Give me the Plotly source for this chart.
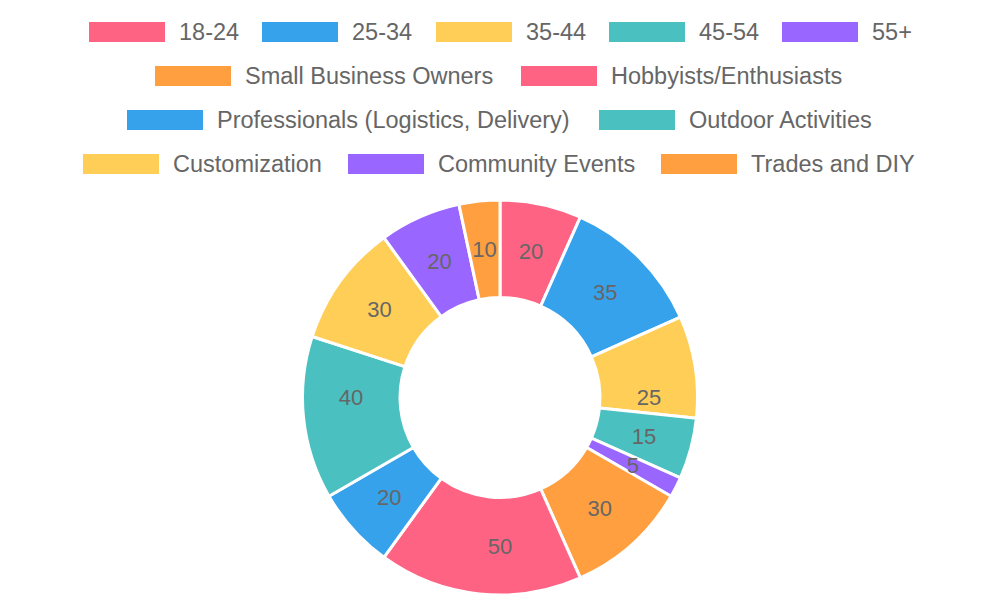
import plotly.graph_objects as go

# ---- data ----
labels = ["18-24", "25-34", "35-44", "45-54", "55+",
          "Small Business Owners", "Hobbyists/Enthusiasts",
          "Professionals (Logistics, Delivery)", "Outdoor Activities",
          "Customization", "Community Events", "Trades and DIY"]
values = [20, 35, 25, 15, 5, 30, 50, 20, 40, 30, 20, 10]
colors = ["#FF6384", "#36A2EB", "#FFCE56", "#4BC0C0", "#9966FF", "#FF9F40",
          "#FF6384", "#36A2EB", "#4BC0C0", "#FFCE56", "#9966FF", "#FF9F40"]

W, H = 1000, 600
FONT = "Liberation Sans, Arial, Helvetica, sans-serif"
TXT = "#666666"

# ---- custom centred legend layout (pixel positions of each legend box) ----
legend_box_left = [89, 262, 436, 609, 782,
                   155, 521,
                   127, 599,
                   83, 348, 661]
legend_row_y = [32, 32, 32, 32, 32,
                76, 76,
                120, 120,
                164, 164, 164]
BOX_W, BOX_H, GAP = 76, 20, 12

# pie geometry (pixels)
CX, CY_TOP = 500, 397.5
R_OUT, R_IN = 197.5, 100
R_LBL_OUT, R_LBL_IN = 156, 142   # narrow invisible ring that carries the value labels

def domain_for(r):
    return dict(x=[(CX - r) / W, (CX + r) / W],
                y=[(H - CY_TOP - r) / H, (H - CY_TOP + r) / H])

fig = go.Figure()
fig.add_trace(go.Pie(
    labels=labels,
    values=values,
    marker=dict(colors=colors, line=dict(color="white", width=3)),
    hole=R_IN / R_OUT,
    sort=False,
    direction="clockwise",
    rotation=0,
    textinfo="none",
    showlegend=False,
    hoverinfo="label+value",
    domain=domain_for(R_OUT),
))
# transparent ring used only to place the value labels at mid-radius
fig.add_trace(go.Pie(
    labels=labels,
    values=values,
    marker=dict(colors=["rgba(0,0,0,0)"] * len(values), line=dict(width=0)),
    hole=R_LBL_IN / R_LBL_OUT,
    sort=False,
    direction="clockwise",
    rotation=0,
    textinfo="value",
    textposition="inside",
    insidetextorientation="horizontal",
    textfont=dict(family=FONT, size=22, color=TXT),
    showlegend=False,
    hoverinfo="skip",
    domain=domain_for(R_LBL_OUT),
))

shapes = []
annotations = []
for lab, col, bx, ry in zip(labels, colors, legend_box_left, legend_row_y):
    shapes.append(dict(
        type="rect", xref="paper", yref="paper",
        x0=bx / W, x1=(bx + BOX_W) / W,
        y0=1 - (ry + BOX_H / 2) / H, y1=1 - (ry - BOX_H / 2) / H,
        fillcolor=col, line=dict(width=0), layer="above",
    ))
    annotations.append(dict(
        xref="paper", yref="paper",
        x=(bx + BOX_W + GAP) / W, y=1 - ry / H,
        xanchor="left", yanchor="middle",
        text=lab, showarrow=False,
        font=dict(family=FONT, size=23.5, color=TXT),
    ))

fig.update_layout(
    width=W, height=H,
    margin=dict(l=0, r=0, t=0, b=0),
    paper_bgcolor="white",
    plot_bgcolor="white",
    shapes=shapes,
    annotations=annotations,
    uniformtext=dict(minsize=22, mode="show"),
    font=dict(family=FONT, color=TXT),
)

fig.write_html("out.html")
